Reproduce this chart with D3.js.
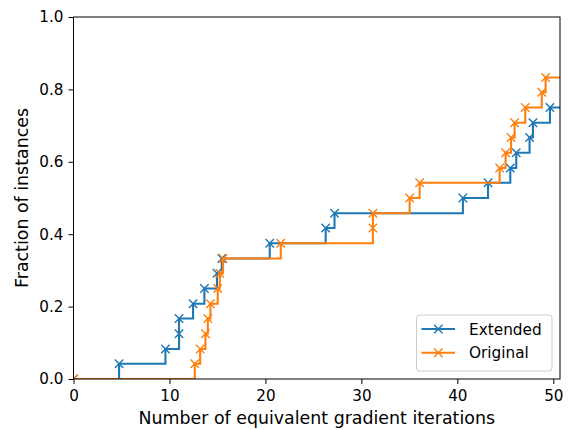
<!DOCTYPE html>
<html>
<head>
<meta charset="utf-8">
<script src="https://cdn.jsdelivr.net/npm/d3@7"></script>
<style>
  html, body { margin: 0; padding: 0; background: #fff; }
  svg { display: block; }
  text { font-family: "DejaVu Sans", sans-serif; fill: #000; }
</style>
</head>
<body>
<svg id="chart" width="574" height="430"></svg>
<script>
// ---- data ----
const extendedX = [0, 4.75, 9.58, 11.0, 11.0, 12.46, 13.64, 14.95, 15.45, 20.45, 26.28, 27.2, 40.58, 43.2, 45.52, 46.14, 47.53, 47.88, 49.65];
const extendedY = [0, 0.042, 0.083, 0.125, 0.167, 0.208, 0.25, 0.292, 0.333, 0.375, 0.417, 0.458, 0.5, 0.542, 0.583, 0.625, 0.667, 0.708, 0.75];
const originalX = [0, 12.64, 13.2, 13.75, 14.0, 14.27, 15.03, 15.24, 15.58, 21.6, 31.2, 31.2, 35.03, 36.07, 44.41, 45.03, 45.6, 45.97, 47.08, 48.8, 49.2];
const originalY = [0, 0.042, 0.083, 0.125, 0.167, 0.208, 0.25, 0.292, 0.333, 0.375, 0.417, 0.458, 0.5, 0.542, 0.583, 0.625, 0.667, 0.708, 0.75, 0.792, 0.833];
const seriesNames = ["Extended", "Original"];
const seriesColors = ["#1f77b4", "#ff7f0e"];
const xTicks = [0, 10, 20, 30, 40, 50];
const yTicks = [0, 0.2, 0.4, 0.6, 0.8, 1.0];
const xDomain = [0, 50.7];
const yDomain = [0, 1];
const xLabel = "Number of equivalent gradient iterations";
const yLabel = "Fraction of instances";

// ---- layout ----
const svg = d3.select("#chart");
const margin = { left: 73.5, right: 14, top: 17, bottom: 51 };
const W = 574, H = 430;
const x0 = margin.left, x1 = W - margin.right, y0 = margin.top, y1 = H - margin.bottom;
const tickFont = 15.2, labelFont = 17.4, legendFont = 15.3;

const x = d3.scaleLinear().domain(xDomain).range([x0, x1]);
const y = d3.scaleLinear().domain(yDomain).range([y1, y0]);

svg.append("defs").append("clipPath").attr("id", "clip")
  .append("rect").attr("x", x0).attr("y", y0).attr("width", x1 - x0).attr("height", y1 - y0);

const series = [
  { name: seriesNames[0], color: seriesColors[0], pts: extendedX.map((v, i) => [v, extendedY[i]]) },
  { name: seriesNames[1], color: seriesColors[1], pts: originalX.map((v, i) => [v, originalY[i]]) }
];

const line = d3.line().x(d => x(d[0])).y(d => y(d[1])).curve(d3.curveStepAfter);
const plot = svg.append("g").attr("clip-path", "url(#clip)");

function xMarker(size) {
  const h = size / 2;
  return `M${-h},${-h}L${h},${h}M${-h},${h}L${h},${-h}`;
}

series.forEach(s => {
  const last = s.pts[s.pts.length - 1];
  const full = s.pts.concat([[xDomain[1] + 1, last[1]]]);
  plot.append("path").attr("d", line(full))
    .attr("fill", "none").attr("stroke", s.color).attr("stroke-width", 2.1)
    .attr("stroke-linejoin", "miter").attr("stroke-linecap", "square");
  plot.selectAll(null).data(s.pts).enter().append("path")
    .attr("transform", d => `translate(${x(d[0])},${y(d[1])})`)
    .attr("d", xMarker(8.4))
    .attr("fill", "none").attr("stroke", s.color).attr("stroke-width", 1.4);
});

// ---- axes ----
const xAxis = d3.axisBottom(x).tickValues(xTicks).tickFormat(d3.format("d")).tickSize(5).tickPadding(6);
const yAxis = d3.axisLeft(y).tickValues(yTicks).tickFormat(d3.format(".1f")).tickSize(5).tickPadding(5);

const gx = svg.append("g").attr("transform", `translate(0,${y1})`).call(xAxis);
const gy = svg.append("g").attr("transform", `translate(${x0},0)`).call(yAxis);
[gx, gy].forEach(g => {
  g.select(".domain").remove();
  g.selectAll(".tick line").attr("stroke", "#000").attr("stroke-width", 1);
  g.selectAll(".tick text").attr("font-size", tickFont).attr("font-family", "DejaVu Sans").attr("fill", "#000");
});

// spines
svg.append("rect").attr("x", x0).attr("y", y0).attr("width", x1 - x0).attr("height", y1 - y0)
  .attr("fill", "none").attr("stroke", "#000").attr("stroke-width", 1);

// axis labels
svg.append("text").attr("x", (x0 + x1) / 2).attr("y", 423.5)
  .attr("text-anchor", "middle").attr("font-size", labelFont).text(xLabel);
svg.append("text").attr("transform", `translate(28,${(y0 + y1) / 2}) rotate(-90)`)
  .attr("text-anchor", "middle").attr("font-size", labelFont).text(yLabel);

// ---- legend ----
const lg = svg.append("g");
const lx = 416.5, ly = 315, lw = 135.5, lh = 56;
lg.append("rect").attr("x", lx).attr("y", ly).attr("width", lw).attr("height", lh)
  .attr("rx", 3).attr("fill", "#fff").attr("fill-opacity", 0.8).attr("stroke", "#ccc").attr("stroke-width", 1);
series.forEach((s, i) => {
  const cy = ly + 14 + i * 23.7;
  lg.append("line").attr("x1", lx + 5).attr("x2", lx + 38.5).attr("y1", cy).attr("y2", cy)
    .attr("stroke", s.color).attr("stroke-width", 2.1);
  lg.append("path").attr("transform", `translate(${lx + 21.8},${cy})`).attr("d", xMarker(8.4))
    .attr("fill", "none").attr("stroke", s.color).attr("stroke-width", 1.4);
  lg.append("text").attr("x", lx + 52.5).attr("y", cy).attr("dy", "0.36em")
    .attr("font-size", legendFont).text(s.name);
});
</script>
</body>
</html>
